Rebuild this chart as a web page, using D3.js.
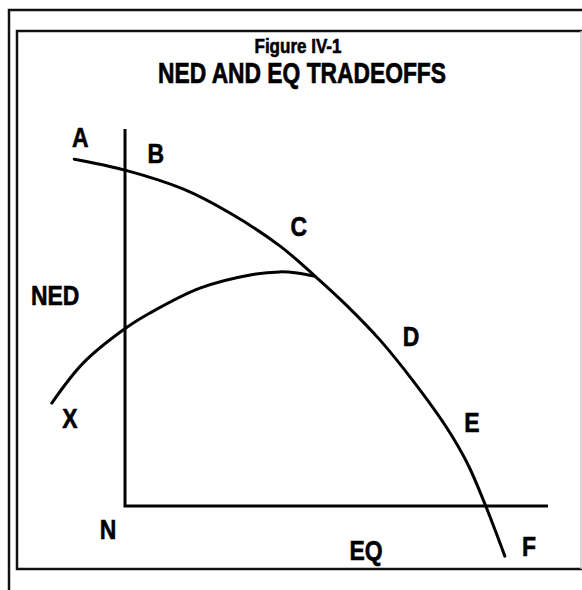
<!DOCTYPE html>
<html>
<head>
<meta charset="utf-8">
<script src="https://cdn.jsdelivr.net/npm/d3@7"></script>
<style>
  body { margin: 0; background: #fff; }
  svg { display: block; }
</style>
</head>
<body>
<script>
// Tradeoff frontier A..F (EQ on x, NED on y, origin at N)
const frontierEQ  = [-12, 0, 13.7, 24.8, 36.6, 44.9, 52.5, 60.3, 68.1, 76.1, 80.9, 85.1, 89.8];
const frontierNED = [92, 89.1, 84.1, 77.7, 69.0, 61.0, 53.1, 44.0, 33.2, 20.7, 11.4, 0.5, -13.3];

// Curve from X up to the frontier near C
const xCurveEQ  = [-17.3, -9.9, 0.2, 5.9, 17.7, 29.6, 36.6, 40.7, 45];
const xCurveNED = [27.3, 37.9, 47.2, 51.2, 57.8, 61.3, 62.1, 61.8, 60.9];

// Point labels and axis names, in the same EQ / NED units
const labelText = ['A', 'B', 'C', 'D', 'E', 'F', 'X', 'N', 'EQ', 'NED'];
const labelEQ   = [-10.6, 7.3, 41.1, 67.6, 82.0, 95.5, -13.0, -4.0, 57.0, -16.5];
const labelNED  = [95.2, 91.0, 71.6, 42.4, 19.6, -13.3, 20.7, -8.8, -14.2, 53.3];

const titleLines = ['Figure IV-1', 'NED AND EQ TRADEOFFS'];

const width = 582;
const height = 590;

const svg = d3.select('body').append('svg')
  .attr('width', width)
  .attr('height', height);

// Frame: outer and inner borders of the scanned page
const frame = svg.append('g').attr('fill', 'none').attr('stroke', '#111');
frame.append('path').attr('d', 'M9,592 L9,10 L584,10').attr('stroke-width', 2.5);
frame.append('path').attr('d', 'M584,31 L17,31 L17,569 L584,569').attr('stroke-width', 2.5);
frame.append('line')
  .attr('x1', 581).attr('y1', 31).attr('x2', 581).attr('y2', 569)
  .attr('stroke', '#c8c8c8').attr('stroke-width', 1.5);

// Titles, condensed bold like the original
svg.append('text')
  .attr('x', 298).attr('y', 53)
  .attr('text-anchor', 'middle')
  .attr('font-family', 'Liberation Sans, Arial, sans-serif')
  .attr('font-weight', 'bold')
  .attr('font-size', '21px')
  .attr('stroke', '#000').attr('stroke-width', 0.6)
  .attr('textLength', 87)
  .attr('lengthAdjust', 'spacingAndGlyphs')
  .text(titleLines[0]);

svg.append('text')
  .attr('x', 302).attr('y', 83)
  .attr('text-anchor', 'middle')
  .attr('font-family', 'Liberation Sans, Arial, sans-serif')
  .attr('font-weight', 'bold')
  .attr('font-size', '29px')
  .attr('stroke', '#000').attr('stroke-width', 0.7)
  .attr('textLength', 288)
  .attr('lengthAdjust', 'spacingAndGlyphs')
  .text(titleLines[1]);

// Scales
const xScale = d3.scaleLinear().domain([0, 100]).range([125, 548]);
const yScale = d3.scaleLinear().domain([0, 100]).range([506, 129]);

// Axes: NED up the left, EQ along the bottom, meeting at N
const axisLine = d3.line().x(d => xScale(d[0])).y(d => yScale(d[1]));
svg.append('path')
  .attr('d', axisLine([[0, 100], [0, 0], [100, 0]]))
  .attr('fill', 'none')
  .attr('stroke', '#000')
  .attr('stroke-width', 3)
  .attr('stroke-linejoin', 'miter');

// Curves
const curve = d3.line()
  .x(d => xScale(d[0]))
  .y(d => yScale(d[1]))
  .curve(d3.curveCatmullRom.alpha(0.5));

svg.append('path')
  .attr('d', curve(frontierEQ.map((v, i) => [v, frontierNED[i]])))
  .attr('fill', 'none')
  .attr('stroke', '#000')
  .attr('stroke-width', 3)
  .attr('stroke-linecap', 'round');

svg.append('path')
  .attr('d', curve(xCurveEQ.map((v, i) => [v, xCurveNED[i]])))
  .attr('fill', 'none')
  .attr('stroke', '#000')
  .attr('stroke-width', 3)
  .attr('stroke-linecap', 'round');

// Letters
svg.selectAll('.pt-label')
  .data(labelText)
  .enter().append('text')
  .attr('class', 'pt-label')
  .attr('transform', (d, i) =>
    'translate(' + xScale(labelEQ[i]) + ',' + yScale(labelNED[i]) + ') scale(0.82,1)')
  .attr('text-anchor', 'middle')
  .attr('font-family', 'Liberation Sans, Arial, sans-serif')
  .attr('font-weight', 'bold')
  .attr('font-size', '28px')
  .attr('fill', '#000')
  .attr('stroke', '#000')
  .attr('stroke-width', 0.6)
  .text(d => d);
</script>
</body>
</html>
